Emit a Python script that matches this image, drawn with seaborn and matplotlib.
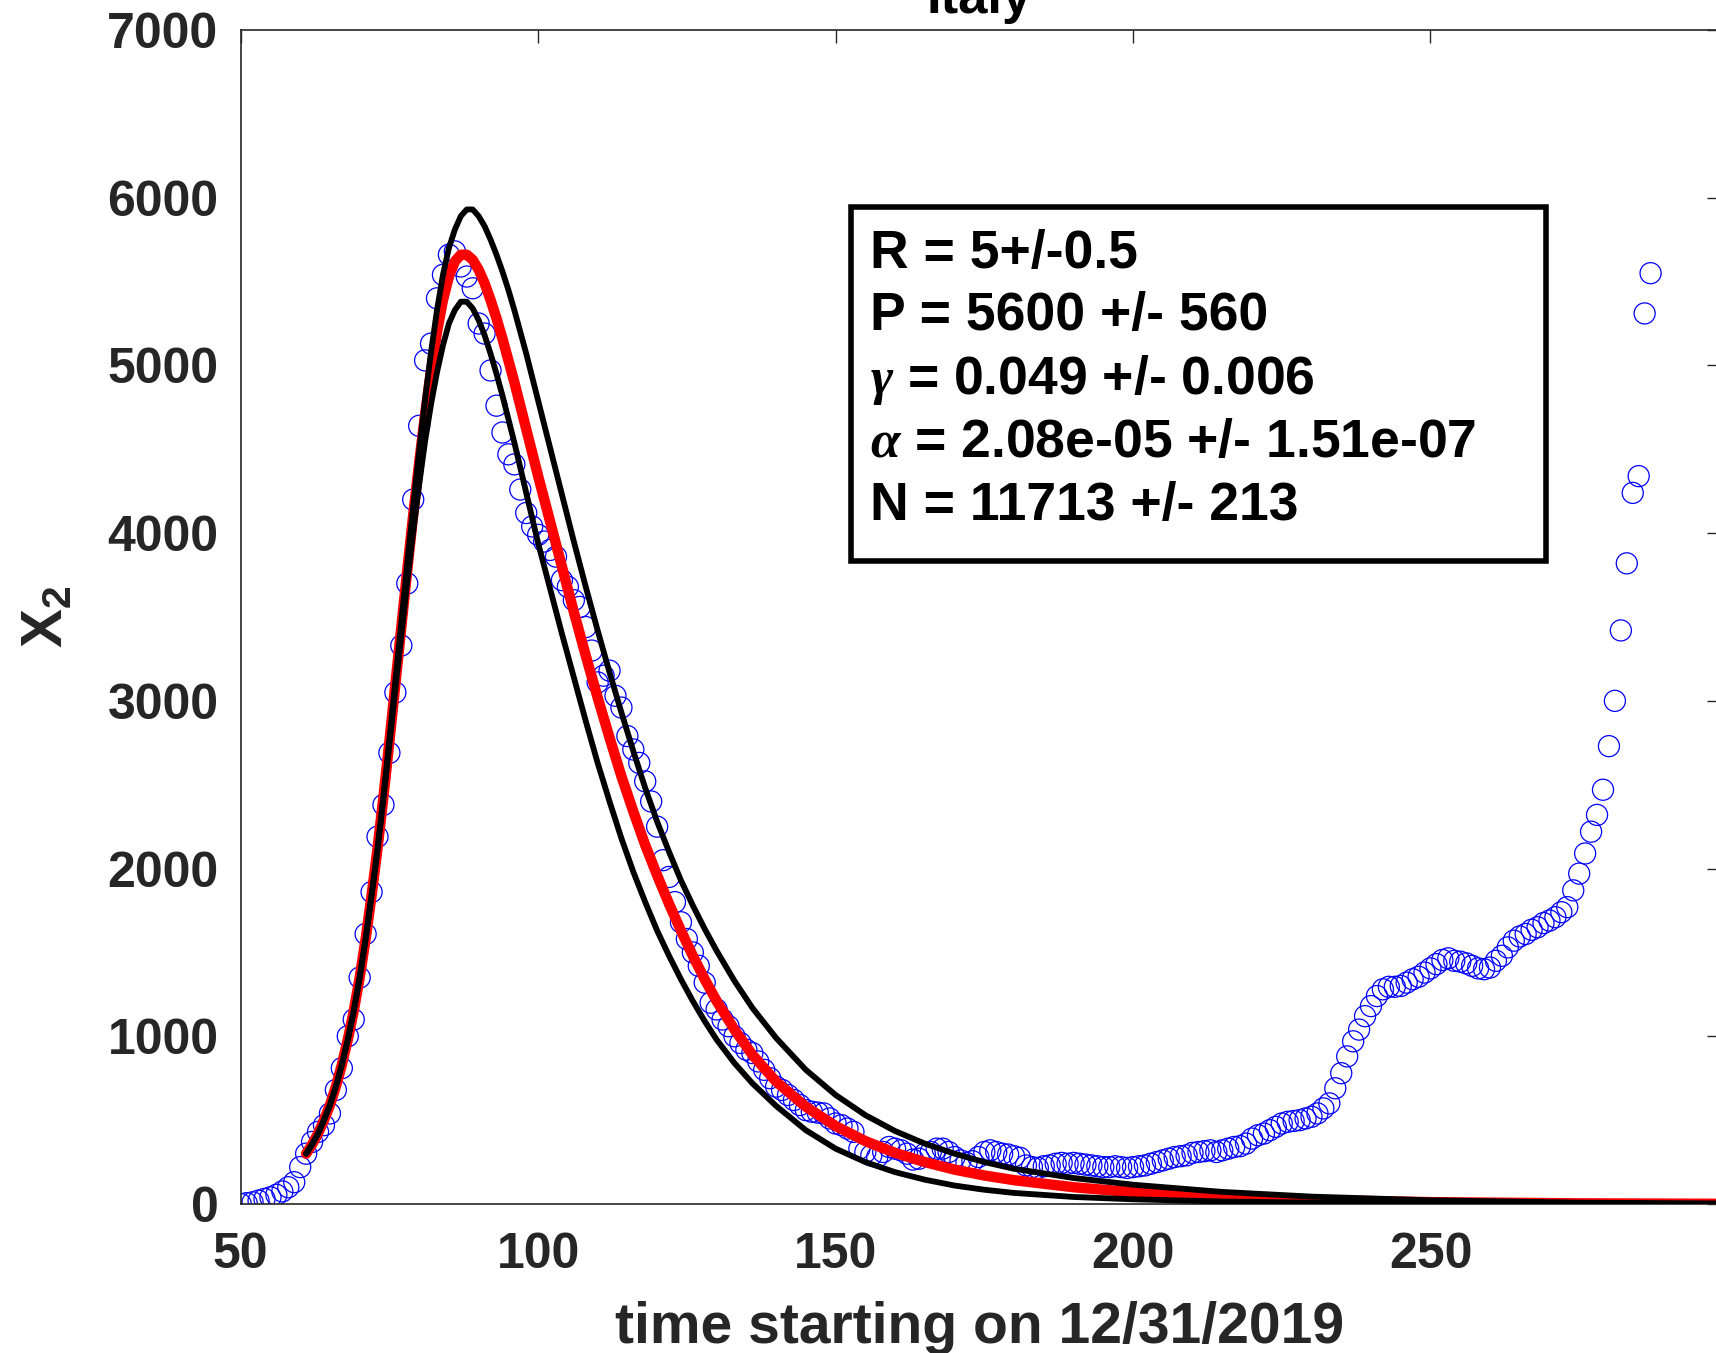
import numpy as np
import pandas as pd
import seaborn as sns
import matplotlib.pyplot as plt
from matplotlib.patches import Rectangle

# observed data, one point per day (days 50..287)
days = list(range(50, 288))
x2_obs = [
    0, 5, 10, 20, 30, 40, 55, 75, 100, 130,                      # 50-59
    220, 300, 370, 430, 470, 540, 680, 810, 1000, 1100,          # 60-69
    1350, 1610, 1860, 2190, 2380, 2690, 3050, 3330, 3700, 4200,  # 70-79
    4640, 5030, 5130, 5400, 5540, 5660, 5680, 5590, 5530, 5460,  # 80-89
    5250, 5190, 4970, 4760, 4600, 4470, 4410, 4260, 4120, 4040,  # 90-99
    3990, 3950, 3900, 3860, 3720, 3680, 3600, 3560, 3440, 3300,  # 100-109
    3110, 3150, 3180, 3030, 2960, 2790, 2710, 2630, 2520, 2400,  # 110-119
    2250, 2050, 1950, 1800, 1680, 1580, 1500, 1420, 1320, 1200,  # 120-129
    1160, 1100, 1060, 1000, 960, 920, 900, 850, 800, 750,        # 130-139
    700, 680, 650, 620, 590, 560, 550, 545, 540, 510,            # 140-149
    480, 470, 450, 430, 330, 310, 290, 280, 310, 340,            # 150-159
    330, 320, 300, 265, 270, 300, 310, 330, 330, 310,            # 160-169
    280, 260, 245, 255, 280, 310, 320, 310, 300, 295,            # 170-179
    285, 275, 230, 220, 215, 225, 230, 240, 245, 240,            # 180-189
    245, 240, 235, 230, 225, 220, 220, 225, 220, 215,            # 190-199
    220, 225, 230, 240, 250, 260, 270, 280, 285, 290,            # 200-209
    305, 310, 315, 320, 310, 320, 330, 340, 345, 360,            # 210-219
    390, 410, 420, 440, 460, 480, 490, 495, 500, 510,            # 220-229
    520, 540, 570, 600, 690, 780, 880, 970, 1040, 1120,          # 230-239
    1180, 1240, 1280, 1295, 1295, 1300, 1320, 1340, 1355, 1380,  # 240-249
    1405, 1430, 1455, 1465, 1450, 1445, 1435, 1420, 1405, 1400,  # 250-259
    1410, 1450, 1480, 1530, 1570, 1595, 1610, 1635, 1650, 1675,  # 260-269
    1690, 1710, 1740, 1770, 1870, 1970, 2090, 2220, 2320, 2470,  # 270-279
    2730, 3000, 3420, 3820, 4240, 4340, 5310, 5550,              # 280-287
]

# fitted model curves (central fit and the two bounds)
fit_days = [61, 62, 63, 64, 65, 66, 67, 68, 69, 70, 71, 72, 73, 74, 75, 76, 77,
            78, 79, 80, 81, 82, 83, 84, 85, 86, 87, 88, 89, 90, 91, 92, 93, 94,
            95, 96, 97, 98, 99, 100, 102, 104, 106, 108, 110, 112, 114, 116,
            118, 120, 122, 124, 126, 128, 130, 133, 136, 140, 145, 150, 155,
            160, 165, 170, 175, 180, 190, 200, 215, 230, 250, 275, 300]
fit_mid = [300, 355, 420, 500, 590, 700, 830, 980, 1150, 1350, 1580, 1840,
           2120, 2430, 2760, 3100, 3440, 3780, 4110, 4420, 4710, 4970, 5200,
           5390, 5530, 5620, 5660, 5660, 5630, 5570, 5490, 5390, 5280, 5160,
           5030, 4900, 4760, 4620, 4480, 4340, 4070, 3800, 3530, 3270, 3020,
           2780, 2550, 2340, 2140, 1960, 1790, 1630, 1480, 1340, 1210, 1040,
           890, 730, 580, 465, 375, 305, 250, 205, 170, 142, 100, 70, 42, 24,
           11, 4, 1]
fit_hi = [300, 355, 420, 500, 590, 700, 830, 980, 1150, 1350, 1580, 1840,
          2120, 2430, 2770, 3120, 3470, 3820, 4160, 4490, 4800, 5080, 5330,
          5540, 5700, 5810, 5890, 5930, 5930, 5890, 5830, 5750, 5660, 5560,
          5450, 5330, 5200, 5070, 4930, 4790, 4510, 4230, 3950, 3680, 3420,
          3170, 2930, 2700, 2480, 2280, 2100, 1930, 1780, 1640, 1510, 1330,
          1170, 990, 800, 650, 530, 435, 360, 300, 250, 210, 155, 115, 72, 44,
          22, 8, 3]
fit_lo = [300, 355, 420, 500, 590, 700, 830, 980, 1150, 1350, 1580, 1840,
          2110, 2420, 2740, 3070, 3390, 3710, 4010, 4290, 4550, 4770, 4960,
          5120, 5250, 5330, 5380, 5380, 5340, 5270, 5180, 5070, 4950, 4820,
          4680, 4540, 4390, 4240, 4090, 3940, 3670, 3400, 3140, 2880, 2630,
          2400, 2180, 1980, 1800, 1630, 1480, 1340, 1210, 1090, 980, 840, 720,
          585, 440, 330, 250, 190, 145, 110, 85, 66, 42, 28, 15, 8, 3, 1, 0]

param_lines = [
    'R = 5+/-0.5',
    'P = 5600 +/- 560',
    r'$\gamma$ = 0.049 +/- 0.006',
    r'$\alpha$ = 2.08e-05 +/- 1.51e-07',
    'N = 11713 +/- 213',
]

obs = pd.DataFrame({'day': days, 'x2': x2_obs})
fits = pd.DataFrame({'day': fit_days, 'mid': fit_mid, 'hi': fit_hi, 'lo': fit_lo})

sns.set_style('white')
plt.rcParams['font.family'] = ['Liberation Sans', 'DejaVu Sans']
plt.rcParams['font.weight'] = 'bold'
plt.rcParams['mathtext.fontset'] = 'custom'
plt.rcParams['mathtext.it'] = 'Liberation Serif:italic'
plt.rcParams['mathtext.rm'] = 'Liberation Sans:bold'
plt.rcParams['mathtext.bf'] = 'Liberation Sans:bold'

W, H = 1716, 1353
fig = plt.figure(figsize=(W / 100, H / 100), dpi=100)
ax = fig.add_axes([240.7 / W, 1 - 1204 / H, (1719 - 240.7) / W, (1204 - 30) / H])

sns.scatterplot(data=obs, x='day', y='x2', ax=ax, marker='o', s=230,
                facecolors='none', edgecolor='#0000ff', linewidth=0.9,
                legend=False, zorder=2)
sns.lineplot(data=fits, x='day', y='mid', ax=ax, color='#ff0000', linewidth=7.5,
             sort=False, estimator=None, zorder=3, solid_joinstyle='round')
sns.lineplot(data=fits, x='day', y='hi', ax=ax, color='black', linewidth=4.2,
             sort=False, estimator=None, zorder=4, solid_joinstyle='round')
sns.lineplot(data=fits, x='day', y='lo', ax=ax, color='black', linewidth=4.2,
             sort=False, estimator=None, zorder=4, solid_joinstyle='round')

ax.set_xlim(50, 298.5)
ax.set_ylim(0, 7000)
ax.set_xticks([50, 100, 150, 200, 250])
ax.set_yticks(range(0, 7001, 1000))
ax.tick_params(direction='in', length=9, width=1, colors='#262626',
               labelsize=36, top=True, right=True, labeltop=False, labelright=False)
ax.tick_params(axis='x', pad=20)
ax.tick_params(axis='y', pad=16)
for lab in ax.get_xticklabels() + ax.get_yticklabels():
    lab.set_fontweight('bold')
for sp in ax.spines.values():
    sp.set_color('#262626')
    sp.set_linewidth(1.2)

ax.set_xlabel('time starting on 12/31/2019', fontsize=41, fontweight='bold',
              color='#262626', labelpad=17)
ax.set_ylabel(r'$\mathbf{X_2}$', fontsize=42, color='#262626')
ax.yaxis.set_label_coords(-0.113, 0.5)

# title is mostly cut off at the top edge of the picture
fig.text(979 / W, 1 - 13 / H, 'Italy', ha='center', va='baseline',
         fontsize=38, fontweight='bold', color='black')

# parameter box
box = Rectangle((851 / W, 1 - 561 / H), (1546 - 851) / W, (561 - 207) / H,
                transform=fig.transFigure, fill=False, edgecolor='black',
                linewidth=4, zorder=5)
fig.patches.append(box)
line_y = [254, 316, 380, 443, 506]
for yy, txt in zip(line_y, param_lines):
    fig.text(870 / W, 1 - yy / H, txt, ha='left', va='center', fontsize=38.5,
             fontweight='bold', color='black')

fig.savefig('out.png', dpi=100)
